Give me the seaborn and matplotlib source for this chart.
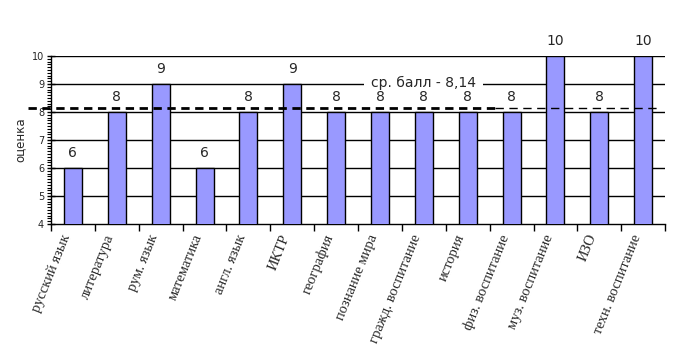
import numpy as np
import pandas as pd
import matplotlib
matplotlib.use('Agg')
import matplotlib.pyplot as plt
from matplotlib.ticker import MultipleLocator, FixedLocator
import seaborn as sns

subjects = ['русский язык', 'литература', 'рум. язык', 'математика', 'англ. язык',
            'ИКТР', 'география', 'познание мира', 'гражд. воспитание', 'история',
            'физ. воспитание', 'муз. воспитание', 'ИЗО', 'техн. воспитание']
grades = [6, 8, 9, 6, 8, 9, 8, 8, 8, 8, 8, 10, 8, 10]

sns.set_style('white')
plt.rcParams['font.family'] = ['DejaVu Sans']

df = pd.DataFrame({'subject': subjects, 'grade': grades})
mean_grade = round(float(np.mean(grades)), 2)

fig = plt.figure(figsize=(6.78, 3.61), dpi=100)
ax = fig.add_axes([0.0752, 0.3795, 0.9058, 0.4655])

sns.barplot(data=df, x='subject', y='grade', color='#9999ff', saturation=1,
            edgecolor='black', linewidth=1, width=0.41, ax=ax, zorder=3)

ax.set_ylim(4, 10)
ax.set_xlim(-0.5, len(subjects) - 0.5)

# horizontal grid
for v in range(5, 11):
    ax.axhline(v, color='black', lw=1, zorder=1)

for s in ['top', 'right']:
    ax.spines[s].set_visible(False)
for s in ['left', 'bottom']:
    ax.spines[s].set_color('black')
    ax.spines[s].set_linewidth(1)

# y ticks
ax.yaxis.set_major_locator(MultipleLocator(1))
ax.yaxis.set_minor_locator(MultipleLocator(0.1))
ax.tick_params(axis='y', which='major', direction='inout', length=6, width=1,
               labelsize=7, pad=2, left=True, color='black')
ax.tick_params(axis='y', which='minor', direction='out', length=3, width=0.8,
               left=True, color='black')

# x ticks at category boundaries
ax.xaxis.set_minor_locator(FixedLocator(np.arange(-0.5, len(subjects), 1.0)))
ax.tick_params(axis='x', which='minor', direction='out', length=5, width=1,
               bottom=True, color='black')
ax.tick_params(axis='x', which='major', length=0, pad=6)
ax.set_xticks(range(len(subjects)))
ax.set_xticklabels(subjects, rotation=68, ha='right', va='top',
                   family='Liberation Serif', fontsize=10.5)

ax.set_xlabel('')
ax.set_ylabel('оценка', fontsize=8.5, labelpad=4)

# value labels
ax.bar_label(ax.containers[0], labels=[str(g) for g in grades], padding=6,
             fontsize=10, zorder=4)

# mean line
ax.plot([-1.02, 9.62], [mean_grade, mean_grade], color='black', lw=2,
        ls=(0, (3, 2)), clip_on=False, zorder=5)
ax.plot([9.62, 13.38], [mean_grade, mean_grade], color='black', lw=1,
        ls=(0, (6, 4)), clip_on=False, zorder=5)

ax.text(8, 9.04, 'ср. балл - ' + f'{mean_grade:.2f}'.replace('.', ','),
        ha='center', va='center', fontsize=10, zorder=3.5,
        bbox=dict(facecolor='white', edgecolor='none',
                  boxstyle='square,pad=0.5'))

fig.savefig('out.png', dpi=100)
